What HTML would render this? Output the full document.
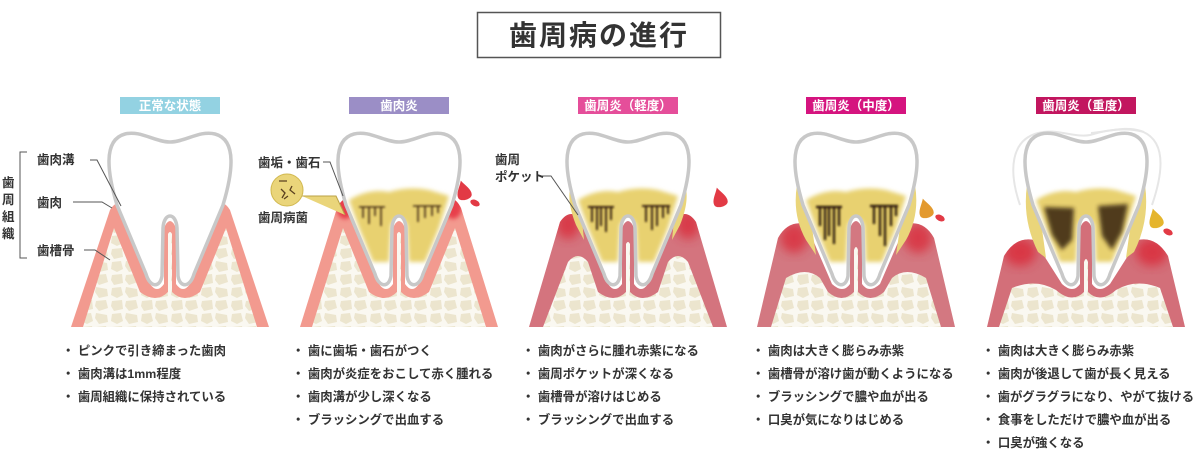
<!DOCTYPE html>
<html><head><meta charset="utf-8"><style>
html,body{margin:0;padding:0;background:#fff;}
svg{display:block;font-family:"Liberation Sans","Noto Sans CJK JP",sans-serif;}
.t{font-size:12.4px;fill:#333;font-weight:bold;}
.lb{font-size:12.5px;fill:#fff;font-weight:bold;}
.an{font-size:12.5px;fill:#333;font-weight:bold;}
</style></head><body>
<svg width="1200" height="460" viewBox="0 0 1200 460" xmlns="http://www.w3.org/2000/svg">
<defs>
<pattern id="bone" width="30" height="26" patternUnits="userSpaceOnUse">
<rect width="30" height="26" fill="#faf8f1"/>
<path d="M2,2 L11,1 L13,9 L7,12 L1,9Z" fill="#ece5ce"/>
<path d="M16,1 L27,3 L28,10 L19,12 L15,6Z" fill="#ece5ce"/>
<path d="M2,15 L12,14 L13,23 L4,25 L1,20Z" fill="#ece5ce"/>
<path d="M16,15 L26,14 L28,22 L19,25 L15,20Z" fill="#ece5ce"/>
</pattern>
<filter id="bl" x="-30%" y="-30%" width="160%" height="160%"><feGaussianBlur stdDeviation="5"/></filter>
<filter id="bl2" x="-30%" y="-30%" width="160%" height="160%"><feGaussianBlur stdDeviation="2"/></filter>
<filter id="bl1" x="-30%" y="-30%" width="160%" height="160%"><feGaussianBlur stdDeviation="1"/></filter>
<path id="tooth" d="M-53,205 C-62,175 -68,140 -45,134 C-30,130 -15,142 0,142 C15,142 30,130 45,134 C68,140 62,175 53,205 L24,274 C20,288 10,288 8,276 L7,228 C6,212 -6,212 -7,228 L-8,276 C-10,288 -20,288 -24,274 Z"/>
<path id="drop" d="M0,-20 C3,-14 8,-9 7,-4 C6,1 -6,1 -7,-4 C-8,-9 -3,-14 0,-20Z"/>
<path id="g3" d="M-99,327 L-68,222 Q-60,210 -50,216 L-20,284 Q-13,294 -6,284 L-6,228 Q0,214 6,228 L6,284 Q13,294 20,284 L50,216 Q60,210 68,222 L99,327Z"/>
<path id="g4" d="M-99,327 L-78,238 Q-68,220 -50,224 L-24,284 Q-13,294 -6,284 L-6,228 Q0,214 6,228 L6,284 Q13,294 24,284 L50,224 Q68,220 78,238 L99,327Z"/>
<path id="g5" d="M-99,327 L-82,256 Q-70,236 -52,240 L-24,284 Q-13,294 -6,284 L-6,228 Q0,214 6,228 L6,284 Q13,294 24,284 L52,240 Q70,236 82,256 L99,327Z"/>
<path id="g2" d="M-99,327 L-62,208 Q-54,192 -44,204 L-20,284 Q-13,294 -6,284 L-6,228 Q0,214 6,228 L6,284 Q13,294 20,284 L44,204 Q54,192 62,208 L99,327Z"/>
<clipPath id="c2"><use href="#g2"/></clipPath>
<clipPath id="c3"><use href="#g3"/></clipPath>
<clipPath id="c4"><use href="#g4"/></clipPath>
<clipPath id="c5"><use href="#g5"/></clipPath>
<clipPath id="ct"><use href="#tooth"/></clipPath>
<g id="plq">
<path d="M-50,200 Q-30,188 -10,192 Q10,186 30,190 L50,196 L40,228 L26,262 L10,262 L8,225 Q0,212 -8,225 L-10,262 L-26,262 L-40,228Z" fill="#e8d170" filter="url(#bl2)"/>
</g>
</defs>

<!-- title -->
<rect x="477.5" y="12.5" width="243" height="45" fill="#fff" stroke="#555" stroke-width="1.5"/>
<text x="599" y="45" text-anchor="middle" font-size="28" fill="#333" style="font-weight:bold;letter-spacing:2px">歯周病の進行</text>

<!-- label boxes -->
<rect x="120" y="97" width="100" height="17" fill="#93d2e2"/><text class="lb" x="170" y="110" text-anchor="middle">正常な状態</text>
<rect x="349" y="97" width="100" height="17" fill="#9b8ec6"/><text class="lb" x="399" y="110" text-anchor="middle">歯肉炎</text>
<rect x="578" y="97" width="100" height="17" fill="#e54e9a"/><text class="lb" x="628" y="110" text-anchor="middle">歯周炎（軽度）</text>
<rect x="806" y="97" width="100" height="17" fill="#d5147f"/><text class="lb" x="856" y="110" text-anchor="middle">歯周炎（中度）</text>
<rect x="1036" y="97" width="100" height="17" fill="#c2165f"/><text class="lb" x="1086" y="110" text-anchor="middle">歯周炎（重度）</text>

<!-- panel 1 -->
<g transform="translate(170,0)">
<path d="M-99,327 L-60,210 Q-53,198 -46,208 L-20,284 Q-13,294 -6,284 L-6,228 Q0,214 6,228 L6,284 Q13,294 20,284 L46,208 Q53,198 60,210 L99,327Z" fill="#f29a8f"/>
<path d="M-87,327 L-56,228 L-30,292 Q-14,304 -2,292 L-2,234 Q0,230 2,234 L2,292 Q14,304 30,292 L56,228 L87,327Z" fill="url(#bone)"/>
<use href="#tooth" fill="#fff" stroke="#c8c8c8" stroke-width="3.5"/>
</g>
<g stroke="#555" stroke-width="1" fill="none">
<path d="M27,152 H20 V258 H27"/>
<path d="M90,160 H97 L121,206"/>
<path d="M73,202 H102 L112,208"/>
<path d="M84,250 H95 L110,260"/>
</g>
<text class="an" x="2" y="187">歯</text><text class="an" x="2" y="204">周</text><text class="an" x="2" y="221">組</text><text class="an" x="2" y="238">織</text>
<text class="an" x="37" y="164">歯肉溝</text>
<text class="an" x="37" y="207">歯肉</text>
<text class="an" x="37" y="255">歯槽骨</text>

<!-- panel 2 -->
<g transform="translate(399,0)">
<use href="#g2" fill="#f29a8f"/>
<g clip-path="url(#c2)">
<ellipse cx="-54" cy="206" rx="9" ry="13" fill="#e8404b" filter="url(#bl2)"/>
<ellipse cx="54" cy="206" rx="9" ry="13" fill="#e8404b" filter="url(#bl2)"/>
</g>
<path d="M-87,327 L-56,228 L-30,292 Q-14,304 -2,292 L-2,234 Q0,230 2,234 L2,292 Q14,304 30,292 L56,228 L87,327Z" fill="url(#bone)"/>
<use href="#tooth" fill="#fff"/>
<g clip-path="url(#ct)"><use href="#plq"/>
<g stroke="#4a3016" stroke-width="1.6" filter="url(#bl1)"><path d="M-40,207 H-14 M-36,207 V218 M-30,207 V224 M-24,207 V216 M-18,207 V226 M14,206 H42 M19,206 V222 M26,206 V218 M33,206 V216 M39,206 V213"/></g></g>
<use href="#tooth" fill="none" stroke="#c8c8c8" stroke-width="3.5"/>
<use href="#drop" transform="translate(67,200) rotate(-15)" fill="#e23a45"/>
<ellipse cx="76" cy="203" rx="5" ry="3" fill="#e23a45" transform="rotate(25 76 203)"/>
</g>
<path d="M302,196 L336,196 L345,215" stroke="#bba246" fill="#ead57a" stroke-width="1"/>
<circle cx="287" cy="190" r="16" fill="#ead57a" stroke="#d1b84f"/>
<g stroke="#5a4020" stroke-width="1.3" fill="none"><path d="M279,181 H287 M281,189 L285,193 L282,198 M292,186 L290,190 L295,194 M288,196 L284,199"/></g>
<path d="M323,162 H330 L343,196" stroke="#555" fill="none"/>
<text class="an" x="258" y="167">歯垢・歯石</text>
<text class="an" x="258" y="222">歯周病菌</text>

<!-- panel 3 -->
<g transform="translate(628,0)">
<use href="#g3" fill="#d4747e"/>
<g clip-path="url(#c3)">
<ellipse cx="-60" cy="224" rx="12" ry="15" fill="#d9303f" filter="url(#bl)" opacity=".85"/>
<ellipse cx="60" cy="224" rx="12" ry="15" fill="#d9303f" filter="url(#bl)" opacity=".85"/>
</g>
<path d="M-85,327 L-60,262 Q-50,250 -40,262 L-30,292 Q-14,304 -2,292 L-2,244 Q0,240 2,244 L2,292 Q14,304 30,292 L40,262 Q50,250 60,262 L85,327Z" fill="url(#bone)"/>
<path d="M-57,185 Q-62,200 -52,225 L-44,240 L-48,200Z M57,185 Q62,200 52,225 L44,240 L48,200Z" fill="#ead57a"/>
<use href="#tooth" fill="#fff"/>
<g clip-path="url(#ct)"><use href="#plq"/>
<g stroke="#3e2810" stroke-width="2" filter="url(#bl1)"><path d="M-40,207 H-14 M-36,207 V222 M-31,207 V230 M-27,207 V226 M-22,207 V232 M-17,207 V220 M14,206 H42 M18,206 V222 M24,206 V230 M29,206 V226 M35,206 V218 M40,206 V214"/></g></g>
<use href="#tooth" fill="none" stroke="#c8c8c8" stroke-width="3.5"/>
<use href="#drop" transform="translate(94,207) rotate(-15)" fill="#e23a45"/>
</g>
<path d="M541,176 H551 L578,215" stroke="#555" fill="none"/>
<text class="an" x="495" y="164">歯周</text>
<text class="an" x="495" y="181">ポケット</text>

<!-- panel 4 -->
<g transform="translate(856,0)">
<use href="#g4" fill="#d37881"/>
<g clip-path="url(#c4)">
<ellipse cx="-62" cy="238" rx="14" ry="15" fill="#d9303f" filter="url(#bl)" opacity=".85"/>
<ellipse cx="62" cy="238" rx="14" ry="15" fill="#d9303f" filter="url(#bl)" opacity=".85"/>
</g>
<path d="M-85,327 L-70,278 Q-50,266 -36,278 L-28,292 Q-14,304 -2,292 L-2,250 Q0,244 2,250 L2,292 Q14,304 28,292 L36,278 Q50,266 70,278 L85,327Z" fill="url(#bone)"/>
<path d="M-59,185 Q-64,215 -50,240 L-40,255 L-48,200Z M59,185 Q64,215 50,240 L40,255 L48,200Z" fill="#ead57a"/>
<use href="#tooth" fill="#fff"/>
<g clip-path="url(#ct)"><use href="#plq"/>
<g stroke="#35220c" stroke-width="2.4" filter="url(#bl1)"><path d="M-40,207 H-14 M-36,207 V226 M-31,207 V240 M-27,207 V236 M-22,207 V244 M-17,207 V226 M14,206 H42 M18,206 V224 M24,206 V236 M29,206 V246 M35,206 V226 M40,206 V216"/></g></g>
<use href="#tooth" fill="none" stroke="#c8c8c8" stroke-width="3.5"/>
<use href="#drop" transform="translate(72,218) rotate(-15)" fill="#e39a2f"/>
<ellipse cx="84" cy="218" rx="5" ry="3" fill="#e23a45" transform="rotate(25 84 218)"/>
</g>

<!-- panel 5 -->
<g transform="translate(1086,0)">
<path d="M-66,205 C-78,170 -75,140 -48,133 C-30,128 -12,138 4,135 C20,130 40,127 58,132" fill="none" stroke="#e6e6e6" stroke-width="2"/>
<path d="M66,205 C78,170 80,140 55,131 C40,126 25,131 5,133" fill="none" stroke="#e6e6e6" stroke-width="2"/>
<use href="#g5" fill="#d36f79"/>
<g clip-path="url(#c5)">
<ellipse cx="-66" cy="252" rx="16" ry="14" fill="#d9303f" filter="url(#bl)" opacity=".9"/>
<ellipse cx="66" cy="252" rx="16" ry="14" fill="#d9303f" filter="url(#bl)" opacity=".9"/>
</g>
<path d="M-87,327 L-74,288 Q-50,278 -30,290 Q-14,304 -2,292 L-2,262 Q0,256 2,262 L2,292 Q14,304 30,290 Q50,278 74,288 L87,327Z" fill="url(#bone)"/>
<path d="M-59,185 Q-64,220 -48,252 L-40,258 L-48,200Z M59,185 Q64,220 48,252 L40,258 L48,200Z" fill="#ead57a"/>
<use href="#tooth" fill="#fff"/>
<g clip-path="url(#ct)"><use href="#plq"/>
<path d="M-42,207 L-12,208 L-14,240 L-24,250 L-34,235Z" fill="#35220c" filter="url(#bl2)" opacity=".85"/>
<path d="M12,206 L42,204 L36,232 L26,250 L16,236Z" fill="#35220c" filter="url(#bl2)" opacity=".85"/></g>
<use href="#tooth" fill="none" stroke="#c8c8c8" stroke-width="3.5"/>
<use href="#drop" transform="translate(72,228) rotate(-15)" fill="#e5b52d"/>
<ellipse cx="82" cy="232" rx="5" ry="3" fill="#e23a45" transform="rotate(25 82 232)"/>
</g>

<!-- bullet lists -->
<g class="t">
<text x="62" y="355">・ ピンクで引き締まった歯肉</text>
<text x="62" y="378">・ 歯肉溝は1mm程度</text>
<text x="62" y="401">・ 歯周組織に保持されている</text>

<text x="292" y="355">・ 歯に歯垢・歯石がつく</text>
<text x="292" y="378">・ 歯肉が炎症をおこして赤く腫れる</text>
<text x="292" y="401">・ 歯肉溝が少し深くなる</text>
<text x="292" y="424">・ ブラッシングで出血する</text>

<text x="522" y="355">・ 歯肉がさらに腫れ赤紫になる</text>
<text x="522" y="378">・ 歯周ポケットが深くなる</text>
<text x="522" y="401">・ 歯槽骨が溶けはじめる</text>
<text x="522" y="424">・ ブラッシングで出血する</text>

<text x="752" y="355">・ 歯肉は大きく膨らみ赤紫</text>
<text x="752" y="378">・ 歯槽骨が溶け歯が動くようになる</text>
<text x="752" y="401">・ ブラッシングで膿や血が出る</text>
<text x="752" y="424">・ 口臭が気になりはじめる</text>

<text x="982" y="355">・ 歯肉は大きく膨らみ赤紫</text>
<text x="982" y="378">・ 歯肉が後退して歯が長く見える</text>
<text x="982" y="401" textLength="212" lengthAdjust="spacingAndGlyphs">・ 歯がグラグラになり、やがて抜ける</text>
<text x="982" y="424">・ 食事をしただけで膿や血が出る</text>
<text x="982" y="447">・ 口臭が強くなる</text>
</g>
</svg>
</body></html>
